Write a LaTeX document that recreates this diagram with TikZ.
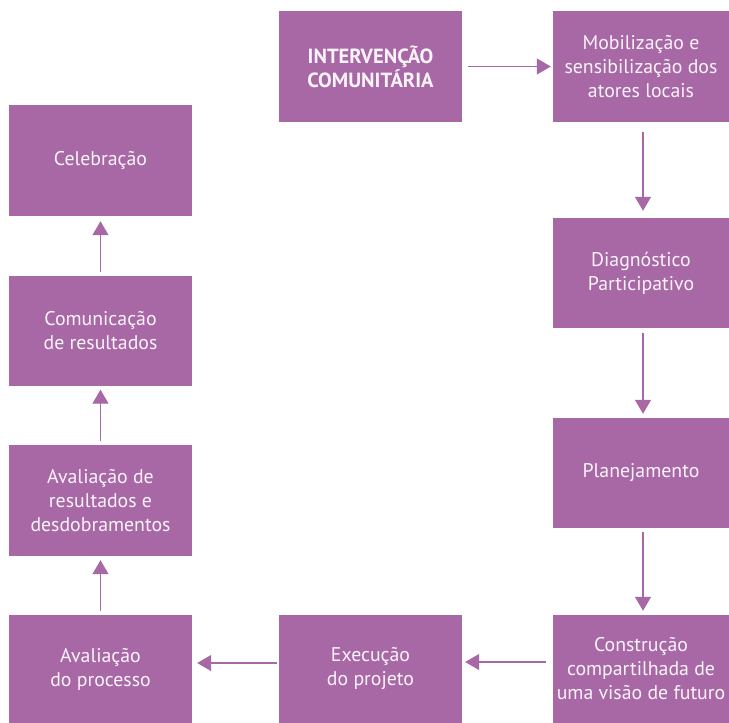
\documentclass[tikz,border=0pt]{standalone}
\usepackage{fontspec}
\setmainfont{PT Sans}
\usetikzlibrary{arrows.meta}
\definecolor{boxfill}{RGB}{168,104,166}
\definecolor{boxtext}{RGB}{250,244,250}
\tikzset{
  stage/.style={rectangle, fill=boxfill, draw=none, inner sep=0pt,
    text=boxtext, align=center,
    font=\fontsize{19.8pt}{24pt}\selectfont},
  arr/.style={draw=boxfill, line width=1.3pt,
    -{Triangle[length=14pt,width=16pt]}}
}
\begin{document}
\begin{tikzpicture}[x=1pt,y=-1pt]
\useasboundingbox (0,0) rectangle (729,723);
% boxes: left column, centre column, right column
\node[stage, minimum width=183pt, minimum height=111pt,
  font=\fontsize{20.5pt}{24pt}\selectfont\bfseries] (interv) at (370.5,66.5)
  {INTERVENÇÃO\\COMUNITÁRIA};
\node[stage, minimum width=176pt, minimum height=111pt] (mobil) at (641,66.5)
  {Mobilização e\\sensibilização dos\\atores locais};
\node[stage, minimum width=176pt, minimum height=110pt] (diag) at (641,273)
  {Diagnóstico\\Participativo};
\node[stage, minimum width=176pt, minimum height=110pt] (plan) at (641,473)
  {Planejamento};
\node[stage, minimum width=176pt, minimum height=108pt] (constr) at (641,669)
  {Construção\\compartilhada de\\uma visão de futuro};
\node[stage, minimum width=183pt, minimum height=108pt] (exec) at (370.5,669)
  {Execução\\do projeto};
\node[stage, minimum width=183pt, minimum height=108pt] (avproc) at (100.5,669)
  {Avaliação\\do processo};
\node[stage, minimum width=183pt, minimum height=111pt] (avres) at (100.5,500.5)
  {Avaliação de\\resultados e\\desdobramentos};
\node[stage, minimum width=183pt, minimum height=110pt] (comun) at (100.5,330.5)
  {Comunicação\\de resultados};
\node[stage, minimum width=183pt, minimum height=111pt] (celeb) at (100.5,160.5)
  {Celebração};
% connectors
\draw[arr, shorten <=6pt, shorten >=2pt] (interv) -- (mobil);
\draw[arr, shorten <=10pt, shorten >=7pt] ([xshift=2pt]mobil.south) -- ([xshift=2pt]diag.north);
\draw[arr, shorten <=5pt, shorten >=4pt] ([xshift=2pt]diag.south) -- ([xshift=2pt]plan.north);
\draw[arr, shorten <=4pt, shorten >=4pt] ([xshift=2pt]plan.south) -- ([xshift=2pt]constr.north);
\draw[arr, shorten <=7pt, shorten >=3pt] ([yshift=7pt]constr.west) -- ([yshift=7pt]exec.east);
\draw[arr, shorten <=2pt, shorten >=5pt] ([yshift=6pt]exec.west) -- ([yshift=6pt]avproc.east);
\draw[arr, shorten <=4pt, shorten >=4pt] (avproc) -- (avres);
\draw[arr, shorten <=4pt, shorten >=4pt] (avres) -- (comun);
\draw[arr, shorten <=3pt, shorten >=5pt] (comun) -- (celeb);
\end{tikzpicture}
\end{document}
